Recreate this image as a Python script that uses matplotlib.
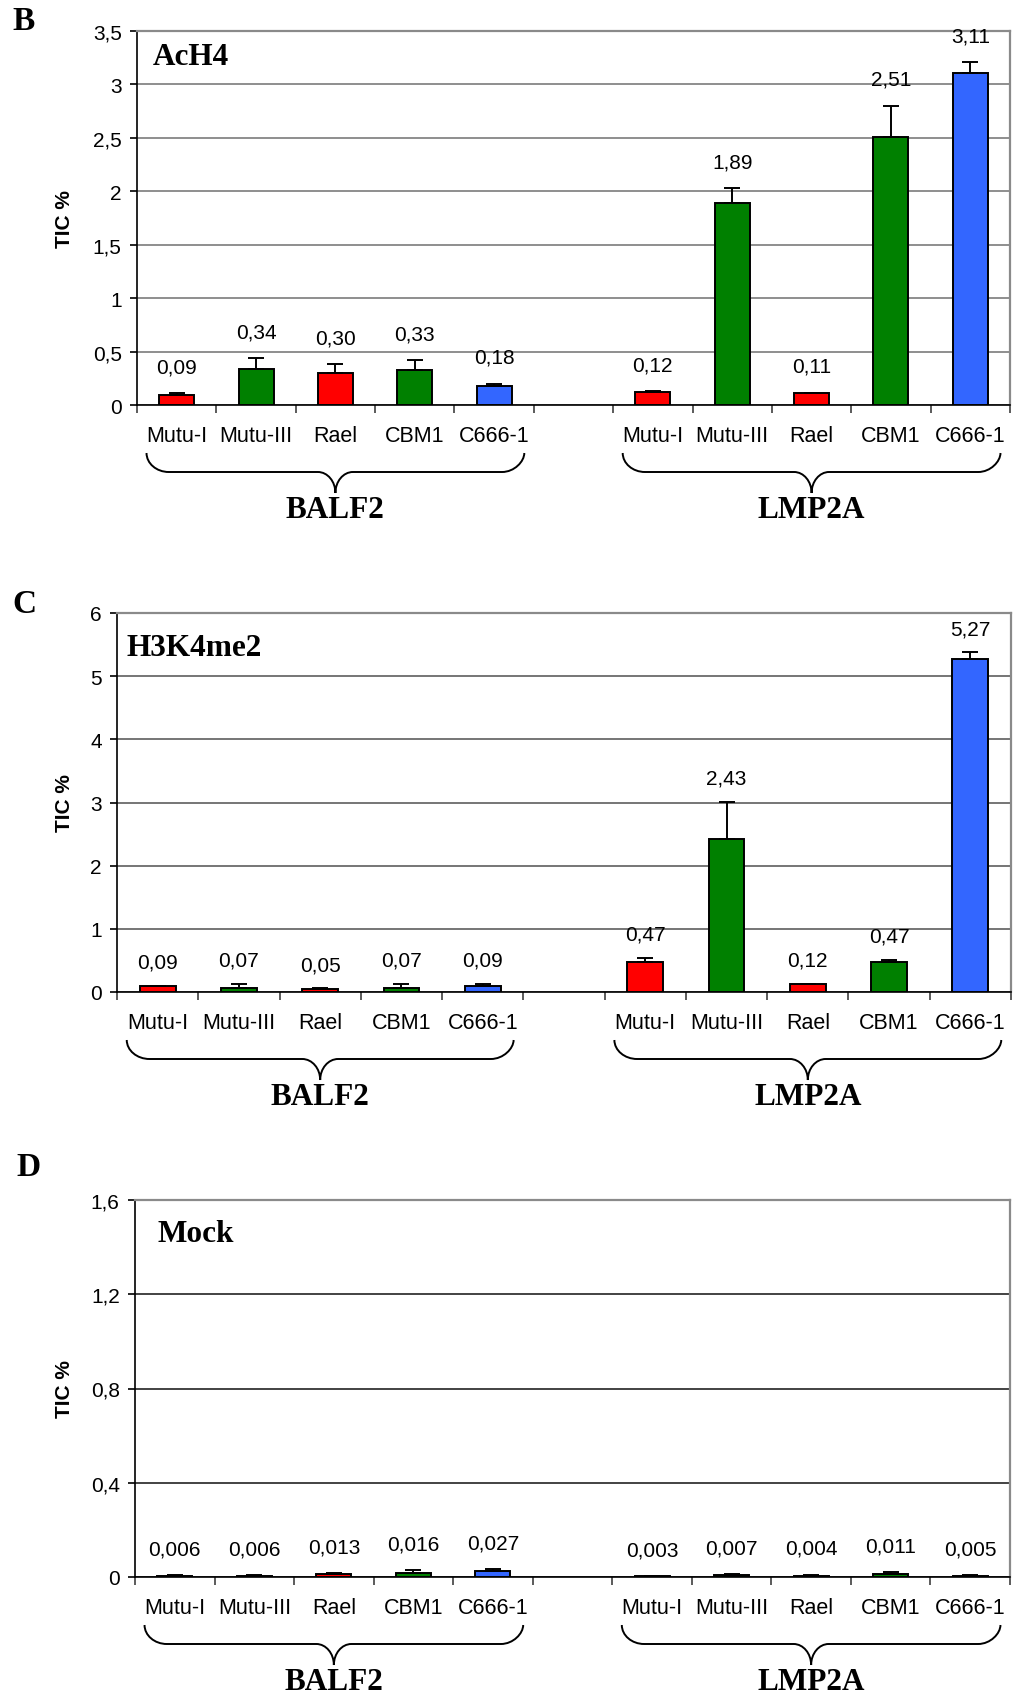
import matplotlib
matplotlib.use("Agg")
import matplotlib.pyplot as plt
import matplotlib.ticker as mticker
from matplotlib.path import Path
from matplotlib.patches import PathPatch

plt.rcParams['font.family'] = ['Liberation Sans', 'DejaVu Sans']

# ---------------- data ----------------
categories = ["Mutu-I", "Mutu-III", "Rael", "CBM1", "C666-1"]
groups = ["BALF2", "LMP2A"]
bar_colors = ["#FF0000", "#008000", "#FF0000", "#008000", "#3366FF"]

acH4_balf2 = [0.09, 0.34, 0.30, 0.33, 0.18]
acH4_lmp2a = [0.12, 1.89, 0.11, 2.51, 3.11]
acH4_balf2_err = [0.02, 0.10, 0.08, 0.09, 0.02]
acH4_lmp2a_err = [0.01, 0.14, 0.005, 0.29, 0.10]

h3k4_balf2 = [0.09, 0.07, 0.05, 0.07, 0.09]
h3k4_lmp2a = [0.47, 2.43, 0.12, 0.47, 5.27]
h3k4_balf2_err = [0.01, 0.06, 0.01, 0.06, 0.04]
h3k4_lmp2a_err = [0.07, 0.58, 0.01, 0.04, 0.11]

mock_balf2 = [0.006, 0.006, 0.013, 0.016, 0.027]
mock_lmp2a = [0.003, 0.007, 0.004, 0.011, 0.005]
mock_balf2_err = [0.002, 0.002, 0.003, 0.014, 0.005]
mock_lmp2a_err = [0.001, 0.006, 0.005, 0.010, 0.002]

W, H = 1013, 1699
fig = plt.figure(figsize=(W / 100, H / 100), dpi=100)

SERIF = ['Liberation Serif', 'DejaVu Serif']


def brace(ax, x0, x1, ytop, yline, ytip, r_end=0.28, r_mid=0.22, k=0.55):
    xm = (x0 + x1) / 2
    verts = [
        (x0, ytop),
        (x0, ytop + k * (yline - ytop)), (x0 + r_end - k * r_end, yline), (x0 + r_end, yline),
        (xm - r_mid, yline),
        (xm - r_mid + k * r_mid, yline), (xm, ytip + k * (yline - ytip)), (xm, ytip),
        (xm, ytip + k * (yline - ytip)), (xm + r_mid - k * r_mid, yline), (xm + r_mid, yline),
        (x1 - r_end, yline),
        (x1 - r_end + k * r_end, yline), (x1, yline + k * (ytop - yline)), (x1, ytop),
    ]
    codes = [Path.MOVETO,
             Path.CURVE4, Path.CURVE4, Path.CURVE4,
             Path.LINETO,
             Path.CURVE4, Path.CURVE4, Path.CURVE4,
             Path.CURVE4, Path.CURVE4, Path.CURVE4,
             Path.LINETO,
             Path.CURVE4, Path.CURVE4, Path.CURVE4]
    patch = PathPatch(Path(verts, codes), facecolor='none', edgecolor='black',
                      lw=1.4, transform=ax.get_xaxis_transform(), clip_on=False)
    ax.add_patch(patch)


def panel(rect_px, balf2, lmp2a, balf2_err, lmp2a_err, ymax, ystep, decimals,
          title, title_xy, letter, letter_px, grid_color, label_off):
    l, t, r, b = rect_px
    ax = fig.add_axes([l / W, 1 - b / H, (r - l) / W, (b - t) / H])
    ax_h = b - t
    xs_b = [0, 1, 2, 3, 4]
    xs_l = [6, 7, 8, 9, 10]
    for xs, vals, errs in ((xs_b, balf2, balf2_err), (xs_l, lmp2a, lmp2a_err)):
        ax.bar(xs, vals, width=0.44, color=bar_colors, edgecolor='black',
               linewidth=1.4, zorder=3)
        ax.errorbar(xs, vals, yerr=[[0] * len(vals), errs], fmt='none',
                    ecolor='black', elinewidth=1.4, capsize=5.5, capthick=1.4,
                    zorder=4)
        for x, v, e in zip(xs, vals, errs):
            txt = f"{v:.{decimals}f}".replace('.', ',')
            ax.annotate(txt, (x, v + e), xytext=(0, label_off),
                        textcoords='offset points', ha='center', va='center',
                        fontsize=15, zorder=5)
    ax.set_xlim(-0.5, 10.5)
    ax.set_ylim(0, ymax)
    ax.yaxis.set_major_locator(mticker.MultipleLocator(ystep))
    ax.yaxis.set_major_formatter(mticker.FuncFormatter(
        lambda v, p: f"{round(v, 3):g}".replace('.', ',')))
    ax.tick_params(axis='y', direction='out', length=5, width=1.2, pad=6,
                   labelsize=15)
    ax.set_xticks(xs_b + xs_l)
    ax.set_xticklabels([])
    ax.tick_params(axis='x', which='major', length=0)
    ax.set_xticks([i - 0.5 for i in range(12)], minor=True)
    ax.tick_params(axis='x', which='minor', direction='out', length=6,
                   width=1.2, color='#404040')
    ax.grid(axis='y', color=grid_color, linewidth=1.1, zorder=0)
    ax.set_axisbelow(True)
    for s in ('left', 'bottom'):
        ax.spines[s].set_color('black')
        ax.spines[s].set_linewidth(1.2)
    for s in ('top', 'right'):
        ax.spines[s].set_color('#8a8a8a')
        ax.spines[s].set_linewidth(1.6)

    tr = ax.get_xaxis_transform()
    for xs in (xs_b, xs_l):
        for x, name in zip(xs, categories):
            ax.text(x, -31 / ax_h, name, transform=tr, ha='center',
                    va='center', fontsize=15.5)
    for xs, g in zip((xs_b, xs_l), groups):
        brace(ax, xs[0] - 0.38, xs[-1] + 0.38, -48 / ax_h, -67 / ax_h, -88 / ax_h)
        ax.text((xs[0] + xs[-1]) / 2, -105 / ax_h, g, transform=tr,
                ha='center', va='center', fontsize=22.5, fontweight='bold',
                family=SERIF)

    ax.text(title_xy[0], title_xy[1], title, transform=ax.transAxes,
            ha='left', va='center', fontsize=22.5, fontweight='bold',
            family=SERIF)
    fig.text(letter_px[0] / W, 1 - letter_px[1] / H, letter, ha='center',
             va='center', fontsize=24, fontweight='bold', family=SERIF)
    fig.text(65 / W, 1 - ((t + b) / 2) / H, "TIC %", rotation=90,
             ha='center', va='center', fontsize=15, fontweight='bold')
    return ax


panel((137, 32, 1010, 406), acH4_balf2, acH4_lmp2a, acH4_balf2_err,
      acH4_lmp2a_err, 3.5, 0.5, 2, "AcH4", (0.018, 0.933), "B", (24, 22),
      '#707070', 19)
panel((117, 614, 1011, 993), h3k4_balf2, h3k4_lmp2a, h3k4_balf2_err,
      h3k4_lmp2a_err, 6, 1, 2, "H3K4me2", (0.011, 0.91), "C", (24, 605),
      '#505050', 17)
panel((135, 1201, 1010, 1578), mock_balf2, mock_lmp2a, mock_balf2_err,
      mock_lmp2a_err, 1.6, 0.4, 3, "Mock", (0.026, 0.91), "D", (28, 1168),
      '#101010', 19)

fig.savefig("out.png", dpi=100)
